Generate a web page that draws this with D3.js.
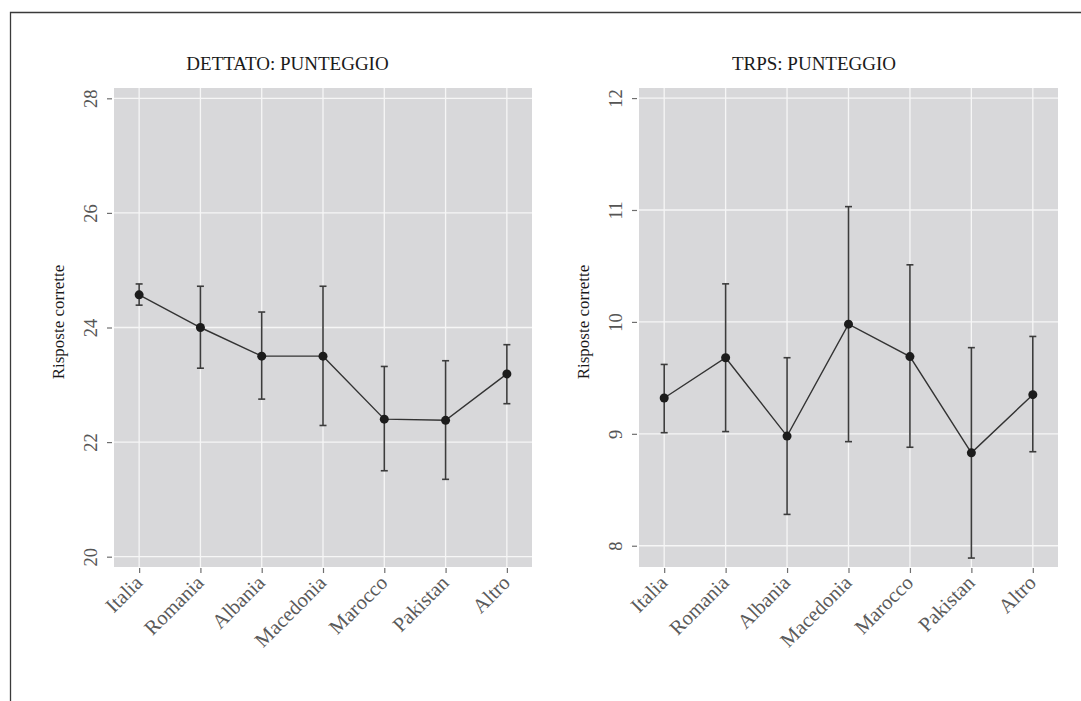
<!DOCTYPE html>
<html>
<head>
<meta charset="utf-8">
<script src="https://cdn.jsdelivr.net/npm/d3@7"></script>
<style>
  html, body { margin: 0; padding: 0; background: #fff; }
  svg { display: block; }
  text { font-family: "Liberation Serif", "DejaVu Serif", serif; }
</style>
</head>
<body>
<svg id="chart" width="1081" height="701"></svg>
<script>
// ---- Data ----
const categories = ["Italia", "Romania", "Albania", "Macedonia", "Marocco", "Pakistan", "Altro"];

const dettatoTitle = "DETTATO: PUNTEGGIO";
const dettatoMean  = [24.57, 24.00, 23.50, 23.50, 22.40, 22.38, 23.19];
const dettatoLow   = [24.39, 23.29, 22.75, 22.29, 21.50, 21.35, 22.67];
const dettatoHigh  = [24.76, 24.72, 24.27, 24.72, 23.32, 23.42, 23.70];
const dettatoTicks = [20, 22, 24, 26, 28];

const trpsTitle = "TRPS: PUNTEGGIO";
const trpsMean  = [9.32, 9.68, 8.98, 9.98, 9.69, 8.83, 9.35];
const trpsLow   = [9.01, 9.02, 8.28, 8.93, 8.88, 7.89, 8.84];
const trpsHigh  = [9.62, 10.34, 9.68, 11.03, 10.51, 9.77, 9.87];
const trpsTicks = [8, 9, 10, 11, 12];

const yLabel = "Risposte corrette";

// ---- Drawing ----
const svg = d3.select("#chart");

// outer frame (top + left edges)
svg.append("path")
  .attr("d", "M10.5,701 L10.5,12.5 L1081,12.5")
  .attr("fill", "none").attr("stroke", "#3a3a3a").attr("stroke-width", 1.3);

function panel(opts) {
  const { x0, x1, y0, y1, domain, ticks, mean, low, high, title, titleX, labelX } = opts;
  const g = svg.append("g");
  const x = d3.scalePoint().domain(categories).range([x0, x1]).padding(0.41);
  const y = d3.scaleLinear().domain(domain).range([y1, y0]);

  // background
  g.append("rect").attr("x", x0).attr("y", y0).attr("width", x1 - x0).attr("height", y1 - y0)
    .attr("fill", "#d8d8da");

  // grid
  g.selectAll(".hg").data(ticks).join("line")
    .attr("x1", x0).attr("x2", x1).attr("y1", d => y(d)).attr("y2", d => y(d))
    .attr("stroke", "#f6f6f6").attr("stroke-width", 1.3);
  g.selectAll(".vg").data(categories).join("line")
    .attr("x1", d => x(d)).attr("x2", d => x(d)).attr("y1", y0).attr("y2", y1)
    .attr("stroke", "#f6f6f6").attr("stroke-width", 1.3);

  // y axis
  const ya = g.append("g").attr("transform", `translate(${x0 - 2},0)`)
    .call(d3.axisLeft(y).tickValues(ticks).tickSize(5).tickPadding(4).tickFormat(d3.format("d")));
  ya.select(".domain").remove();
  ya.selectAll(".tick line").attr("stroke", "#6f6f6f").attr("stroke-width", 1.2);
  ya.selectAll(".tick text")
    .attr("fill", "#555").attr("font-size", 18.5)
    .attr("font-family", "Liberation Serif")
    .attr("text-anchor", "middle")
    .attr("x", null).attr("dy", null)
    .attr("transform", "translate(-19,0) rotate(-90)")
    .attr("dominant-baseline", "middle");

  // x axis
  const xa = g.append("g").attr("transform", `translate(0,${y1 + 1})`)
    .call(d3.axisBottom(x).tickSize(5).tickPadding(3));
  xa.select(".domain").remove();
  xa.selectAll(".tick line").attr("stroke", "#6f6f6f").attr("stroke-width", 1.2);
  xa.selectAll(".tick text")
    .attr("fill", "#5a5a5a").attr("font-size", 20.5)
    .attr("font-family", "Liberation Serif")
    .attr("text-anchor", "end")
    .attr("y", null).attr("dy", null)
    .attr("transform", "translate(4,16) rotate(-45)");

  // y label
  g.append("text").attr("transform", `translate(${labelX},322) rotate(-90)`)
    .attr("text-anchor", "middle").attr("dominant-baseline", "middle")
    .attr("font-size", 17).attr("fill", "#1a1a1a").text(yLabel);

  // title
  g.append("text").attr("x", titleX).attr("y", 70)
    .attr("text-anchor", "middle").attr("font-size", 19).attr("fill", "#1a1a1a").text(title);

  const data = categories.map((c, i) => ({ c, m: mean[i], lo: low[i], hi: high[i] }));

  // error bars
  const eb = g.selectAll(".eb").data(data).join("g");
  eb.append("line").attr("x1", d => x(d.c)).attr("x2", d => x(d.c))
    .attr("y1", d => y(d.lo)).attr("y2", d => y(d.hi))
    .attr("stroke", "#3c3c3c").attr("stroke-width", 1.6);
  eb.append("line").attr("x1", d => x(d.c) - 3.5).attr("x2", d => x(d.c) + 3.5)
    .attr("y1", d => y(d.lo)).attr("y2", d => y(d.lo))
    .attr("stroke", "#3c3c3c").attr("stroke-width", 1.6);
  eb.append("line").attr("x1", d => x(d.c) - 3.5).attr("x2", d => x(d.c) + 3.5)
    .attr("y1", d => y(d.hi)).attr("y2", d => y(d.hi))
    .attr("stroke", "#3c3c3c").attr("stroke-width", 1.6);

  // line
  g.append("path").datum(data)
    .attr("d", d3.line().x(d => x(d.c)).y(d => y(d.m)))
    .attr("fill", "none").attr("stroke", "#333").attr("stroke-width", 1.4);

  // points
  g.selectAll(".pt").data(data).join("circle")
    .attr("cx", d => x(d.c)).attr("cy", d => y(d.m)).attr("r", 4.5)
    .attr("fill", "#1c1c1c");
}

panel({ x0: 114, x1: 532, y0: 88, y1: 567, domain: [19.82, 28.18], ticks: dettatoTicks,
  mean: dettatoMean, low: dettatoLow, high: dettatoHigh, title: dettatoTitle, titleX: 287.5, labelX: 60 });
panel({ x0: 639, x1: 1058, y0: 88, y1: 567, domain: [7.81, 12.09], ticks: trpsTicks,
  mean: trpsMean, low: trpsLow, high: trpsHigh, title: trpsTitle, titleX: 814, labelX: 585 });
</script>
</body>
</html>
